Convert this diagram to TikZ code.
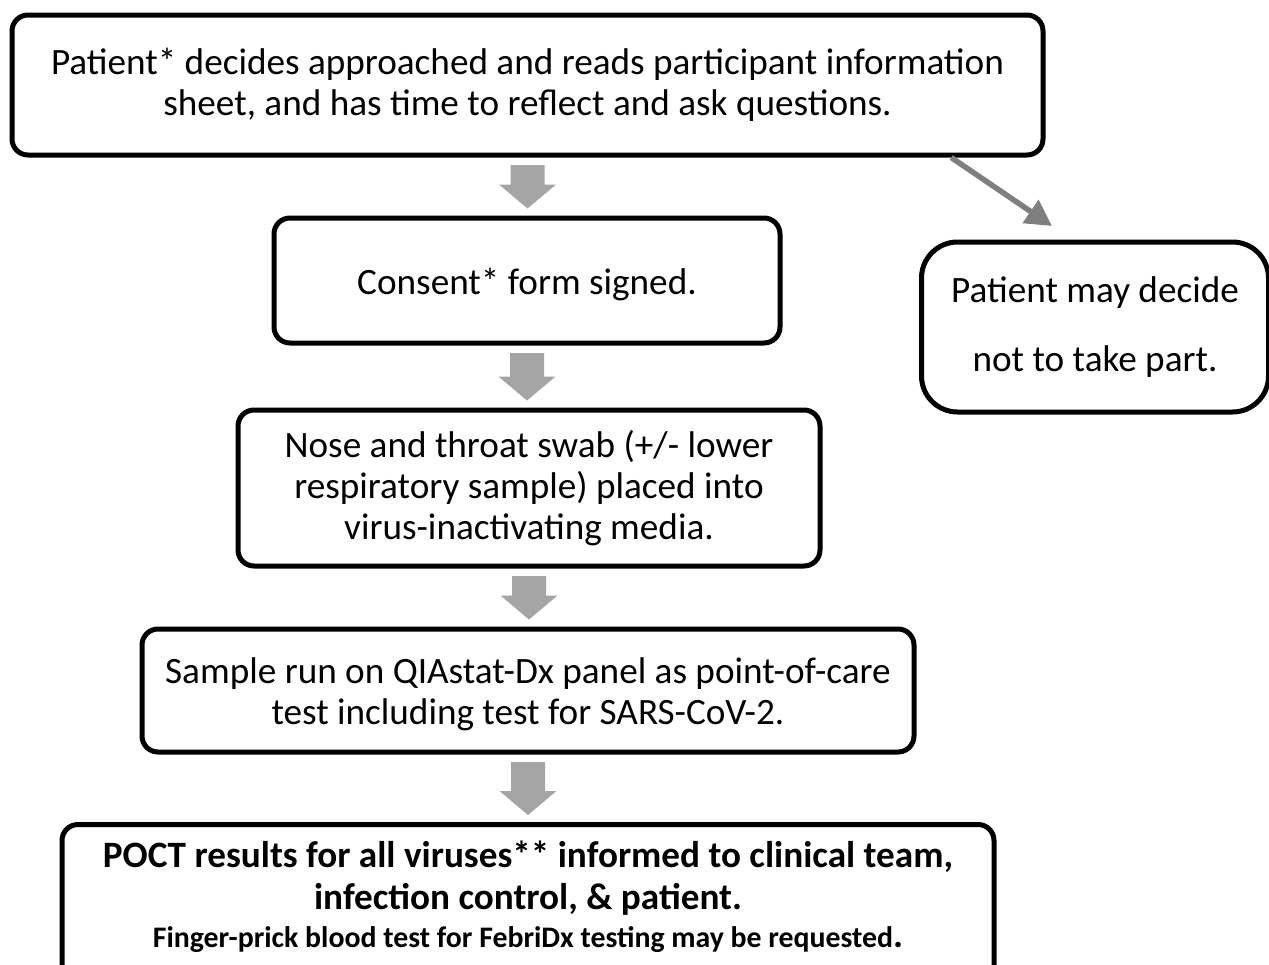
\documentclass[tikz,border=0pt]{standalone}
\usepackage{fontspec}
\setmainfont{Carlito}
\usetikzlibrary{arrows.meta,calc}
\definecolor{blockgray}{HTML}{A5A5A5}
\definecolor{diaggray}{HTML}{7F7F7F}
\tikzset{
  flowbox/.style={draw=black, line width=5pt, rounded corners=16pt, align=center,
    inner sep=0pt, font=\fontsize{37.2}{41}\selectfont},
}
\newcommand\blockarr[2]{%
  \fill[blockgray] let \p1=($(#1.south)+(0,7.5)$), \p2=($(#2.north)-(0,7)$) in
    (\x1-17pt,\y1) -- (\x1+17pt,\y1) -- (\x1+17pt,\y2+24pt) -- (\x1+28.5pt,\y2+24pt)
    -- (\x1,\y2) -- (\x1-28.5pt,\y2+24pt) -- (\x1-17pt,\y2+24pt) -- cycle;}
\begin{document}
\begin{tikzpicture}[x=1pt,y=-1pt]
\useasboundingbox (0,0) rectangle (1269,964);
\clip (0,0) rectangle (1269,964);
\fill[white] (0,0) rectangle (1269,964);
\node[flowbox, minimum width=1031pt, minimum height=140pt] (top) at (527.5,85)
  {Patient* decides approached and reads participant information\\sheet, and has time to reflect and ask questions.};
\node[flowbox, minimum width=506pt, minimum height=125pt] (consent) at (527,280.5)
  {\raisebox{-4pt}[\height][\depth]{Consent* form signed.}};
\node[flowbox, rounded corners=36pt, minimum width=347pt, minimum height=170pt,
  font=\fontsize{37.2}{69}\selectfont] (decline) at (1095,327)
  {Patient may decide\\not to take part.};
\node[flowbox, minimum width=582pt, minimum height=156pt] (swab) at (529,488)
  {Nose and throat swab (+/- lower\\respiratory sample) placed into\\virus-inactivating media.};
\node[flowbox, minimum width=772pt, minimum height=123pt] (run) at (528,690.5)
  {\raisebox{-5pt}[\height][\depth]{\begin{tabular}{@{}c@{}}Sample run on QIAstat-Dx panel as point-of-care\\test including test for SARS-CoV-2.\end{tabular}}};
\node[flowbox, minimum width=932pt, minimum height=160pt, anchor=north] (result) at (528,822)
  {};
\node[font=\bfseries\fontsize{37.2}{42}\selectfont, align=center] (restext) at (528,878)
  {POCT results for all viruses** informed to clinical team,\\infection control, \& patient.};
\node[font=\bfseries\fontsize{29.8}{34}\selectfont, anchor=base] (resnote) at (528,947)
  {Finger-prick blood test for FebriDx testing may be requested{\fontsize{37.2}{40}\selectfont.}};
\blockarr{top}{consent}
\blockarr{consent}{swab}
\blockarr{swab}{run}
\blockarr{run}{result}
\coordinate (dend) at (1052,226);
\draw[diaggray, line width=5.5pt, -{Triangle[length=26pt,width=27pt]}]
  ($(top.south west)!0.909!(top.south east)$) -- (dend);
\end{tikzpicture}
\end{document}
